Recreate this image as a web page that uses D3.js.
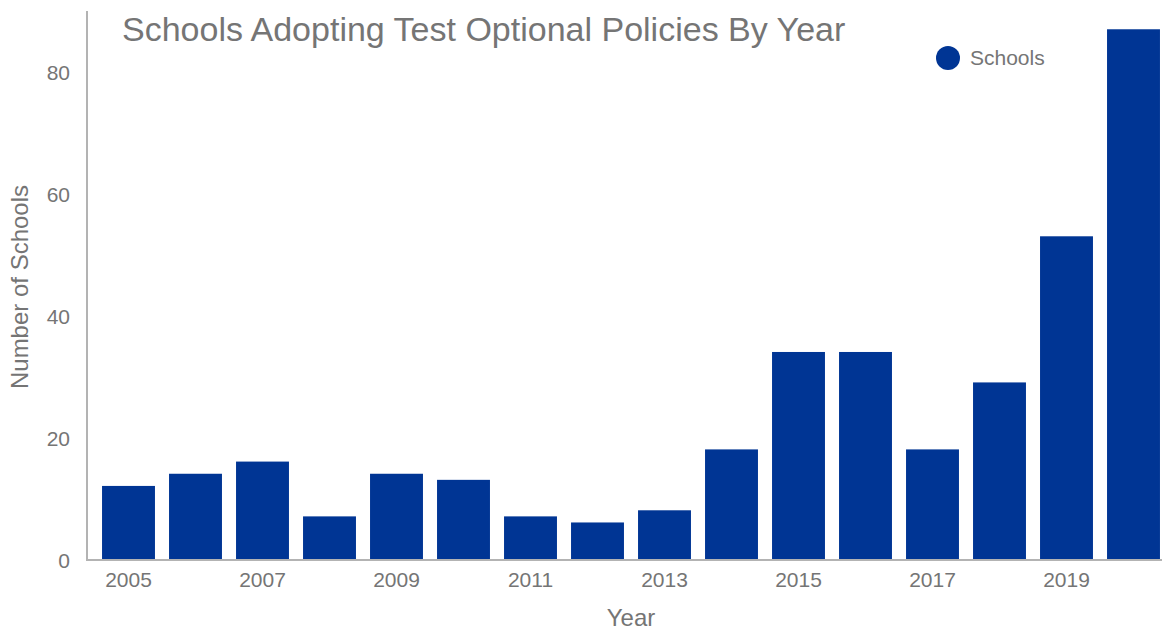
<!DOCTYPE html>
<html>
<head>
<meta charset="utf-8">
<script src="https://cdn.jsdelivr.net/npm/d3@7"></script>
<style>
  body { margin: 0; background: #fff; }
  text { font-family: "Liberation Sans", Arial, sans-serif; fill: #757575; }
</style>
</head>
<body>
<div id="chart"></div>
<script>
// Data
const years = [2005, 2006, 2007, 2008, 2009, 2010, 2011, 2012, 2013, 2014, 2015, 2016, 2017, 2018, 2019, 2020];
const schools = [12, 14, 16, 7, 14, 13, 7, 6, 8, 18, 34, 34, 18, 29, 53, 87];
const yTicks = [0, 20, 40, 60, 80];
const xTickYears = [2005, 2007, 2009, 2011, 2013, 2015, 2017, 2019];

const width = 1164, height = 631;
const barColor = "#003594";

const svg = d3.select("#chart")
    .append("svg")
    .attr("width", width)
    .attr("height", height);

// Scales
const x = d3.scaleBand()
    .domain(years)
    .range([95, 1167])
    .paddingInner(0.21)
    .paddingOuter(0.105);

const y = d3.scaleLinear()
    .domain([0, 90])
    .range([559, 11]);

// Bars
svg.selectAll("rect.bar")
    .data(years)
    .join("rect")
    .attr("class", "bar")
    .attr("x", d => x(d))
    .attr("y", (d, i) => y(schools[i]))
    .attr("width", x.bandwidth())
    .attr("height", (d, i) => y(0) - y(schools[i]))
    .attr("fill", barColor);

// Axis lines
svg.append("line")
    .attr("x1", 87).attr("x2", 87)
    .attr("y1", y(90)).attr("y2", y(0) + 1)
    .attr("stroke", "#b3b3b3").attr("stroke-width", 2);
svg.append("line")
    .attr("x1", 86).attr("x2", 1162)
    .attr("y1", y(0) + 1).attr("y2", y(0) + 1)
    .attr("stroke", "#b3b3b3").attr("stroke-width", 2);

// Y tick labels
svg.selectAll("text.ytick")
    .data(yTicks)
    .join("text")
    .attr("class", "ytick")
    .attr("x", 70)
    .attr("y", d => y(d) + 3)
    .attr("text-anchor", "end")
    .attr("dominant-baseline", "middle")
    .style("font-size", "21px")
    .text(d => d);

// X tick labels
svg.selectAll("text.xtick")
    .data(xTickYears)
    .join("text")
    .attr("class", "xtick")
    .attr("x", d => x(d) + x.bandwidth() / 2)
    .attr("y", 587)
    .attr("text-anchor", "middle")
    .style("font-size", "21px")
    .text(d => d);

// Axis titles
svg.append("text")
    .attr("x", 631)
    .attr("y", 626)
    .attr("text-anchor", "middle")
    .style("font-size", "24px")
    .text("Year");

svg.append("text")
    .attr("transform", "translate(28,287) rotate(-90)")
    .attr("text-anchor", "middle")
    .style("font-size", "24px")
    .text("Number of Schools");

// Title
svg.append("text")
    .attr("x", 122)
    .attr("y", 41)
    .style("font-size", "34px")
    .text("Schools Adopting Test Optional Policies By Year");

// Legend
svg.append("circle")
    .attr("cx", 948).attr("cy", 58).attr("r", 12)
    .attr("fill", barColor);
svg.append("text")
    .attr("x", 970)
    .attr("y", 65)
    .style("font-size", "21px")
    .text("Schools");
</script>
</body>
</html>
